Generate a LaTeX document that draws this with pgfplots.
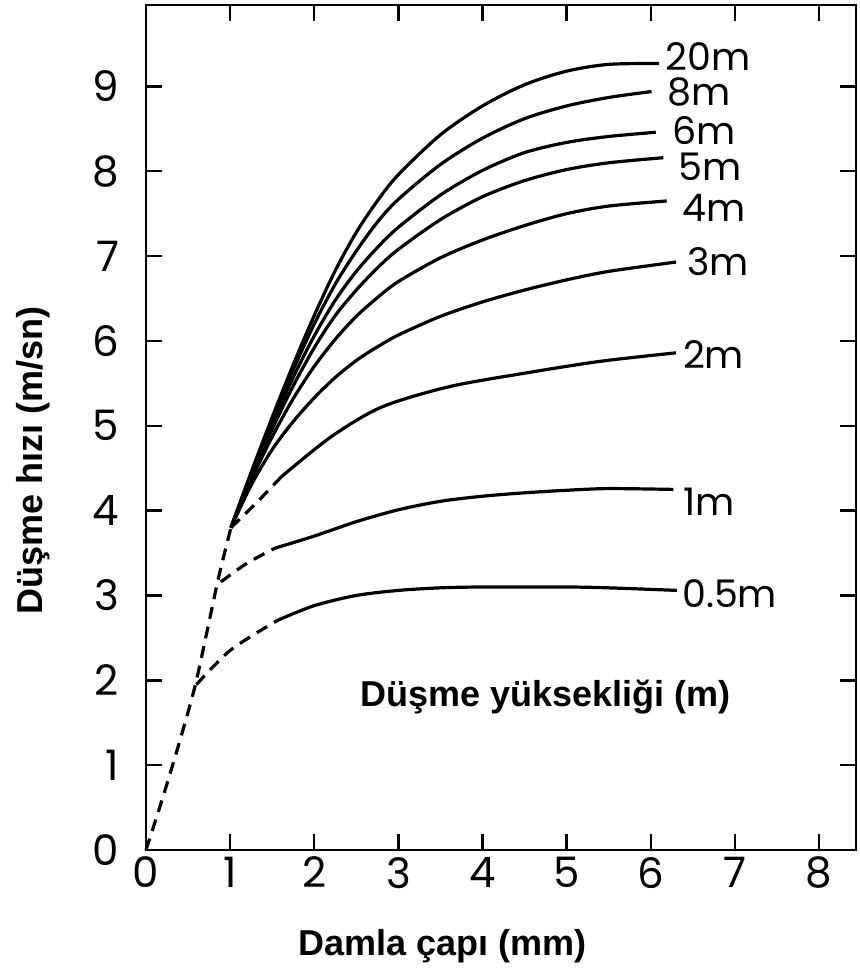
\documentclass[border=0pt]{standalone}
\usepackage{fontspec}
\setmainfont{Liberation Sans}
\newfontfamily\letterfont{Poppins}
\usepackage{pgfplots}
\pgfplotsset{compat=1.18}
\begin{document}
\begin{tikzpicture}
\path[use as bounding box] (-73pt,-61pt) rectangle (356.5pt,425pt);
\begin{axis}[
  scale only axis, width=355pt, height=422.5pt,
  xmin=0, xmax=8.44, ymin=0, ymax=9.96,
  xtick={0,...,8}, ytick={0,...,9},
  xtick pos=both, ytick pos=both,
  tick align=inside, major tick length=8pt,
  axis line style={line width=1.4pt},
  tick style={line width=1.2pt, black},
  /pgf/number format/assume math mode=true,
  ticklabel style={font=\letterfont\fontsize{21}{21}\selectfont},
  yticklabel style={xshift=-10pt},
  clip=false,
  cycle list={{black, solid}},
  curve/.style={black, line width=1.6pt, smooth},
  dcurve/.style={black, line width=1.6pt, smooth, dash pattern=on 6pt off 4pt},
]
% main dashed curve
\addplot[dcurve] coordinates {(0,0) (0.2,0.62) (0.4,1.28) (0.58,1.92) (0.72,2.55) (0.86,3.2) (1.01,3.8)};
% 20 m
\addplot[curve] coordinates {(1.01,3.80) (1.25,4.45) (1.5,5.10) (1.75,5.72) (2.0,6.30) (2.25,6.83) (2.5,7.28) (2.75,7.65) (3.0,7.96) (3.5,8.43) (4.0,8.77) (4.5,9.02) (5.0,9.18) (5.5,9.26) (6.1,9.27)};
% 8 m
\addplot[curve] coordinates {(1.01,3.80) (1.25,4.44) (1.5,5.07) (1.75,5.66) (2.0,6.20) (2.25,6.67) (2.5,7.06) (2.75,7.40) (3.0,7.67) (3.5,8.08) (4.0,8.39) (4.5,8.62) (5.0,8.77) (5.5,8.87) (6.01,8.94)};
% 6 m
\addplot[curve] coordinates {(1.01,3.80) (1.25,4.42) (1.5,5.02) (1.75,5.57) (2.0,6.06) (2.25,6.48) (2.5,6.82) (2.75,7.10) (3.0,7.34) (3.5,7.72) (4.0,8.01) (4.5,8.22) (5.0,8.34) (5.5,8.41) (6.06,8.46)};
% 5 m
\addplot[curve] coordinates {(1.01,3.80) (1.25,4.40) (1.5,4.96) (1.75,5.47) (2.0,5.92) (2.25,6.30) (2.5,6.60) (2.75,6.86) (3.0,7.08) (3.5,7.43) (4.0,7.70) (4.5,7.89) (5.0,8.02) (5.5,8.10) (6.15,8.16)};
% 4 m
\addplot[curve] coordinates {(1.01,3.80) (1.25,4.36) (1.5,4.87) (1.75,5.32) (2.0,5.70) (2.25,6.02) (2.5,6.29) (2.75,6.51) (3.0,6.70) (3.5,6.98) (4.0,7.19) (4.5,7.36) (5.0,7.50) (5.5,7.59) (6.19,7.65)};
% 3 m
\addplot[curve] coordinates {(1.01,3.80) (1.25,4.30) (1.5,4.72) (1.75,5.05) (2.0,5.33) (2.25,5.57) (2.5,5.77) (2.75,5.93) (3.0,6.07) (3.5,6.29) (4.0,6.46) (4.5,6.60) (5.0,6.72) (5.5,6.82) (6.3,6.93)};
% 2 m
\addplot[dcurve] coordinates {(1.01,3.8) (1.3,4.08) (1.61,4.4)};
\addplot[curve] coordinates {(1.61,4.4) (2.2,4.87) (2.8,5.22) (3.6,5.46) (4.5,5.62) (5.4,5.76) (6.3,5.86)};
% 1 m
\addplot[dcurve] coordinates {(0.89,3.16) (1.2,3.38) (1.54,3.56)};
\addplot[curve] coordinates {(1.54,3.56) (2.0,3.70) (2.5,3.87) (3.0,4.01) (3.5,4.11) (4.0,4.17) (4.5,4.21) (5.0,4.24) (5.5,4.26) (6.27,4.25)};
% 0.5 m
\addplot[dcurve] coordinates {(0.6,1.95) (1.01,2.36) (1.57,2.71)};
\addplot[curve] coordinates {(1.57,2.71) (2.0,2.88) (2.5,3.00) (3.0,3.06) (3.5,3.09) (4.0,3.10) (5.0,3.10) (5.5,3.09) (6.31,3.06)};
% curve labels
\begin{scope}[every node/.style={anchor=west, inner sep=0pt, font=\letterfont\fontsize{19}{19}\selectfont}]
\node at (axis cs:6.17,9.35) {20m};
\node at (axis cs:6.19,8.93) {8m};
\node at (axis cs:6.25,8.48) {6m};
\node at (axis cs:6.33,8.05) {5m};
\node at (axis cs:6.37,7.57) {4m};
\node at (axis cs:6.43,6.93) {3m};
\node at (axis cs:6.38,5.84) {2m};
\node at (axis cs:6.38,4.10) {1m};
\node at (axis cs:6.37,3.02) {0.5m};
\end{scope}
\node[font=\bfseries\fontsize{18}{18}\selectfont] at (axis cs:4.75,1.80) {Düşme yüksekliği (m)};
\node[font=\bfseries\fontsize{18}{18}\selectfont] at ([yshift=-48pt]rel axis cs:0.418,0) {Damla çapı (mm)};
\node[rotate=90, font=\bfseries\fontsize{18}{18}\selectfont] at ([xshift=-56.5pt]rel axis cs:0,0.4615) {Düşme hızı (m/sn)};
\end{axis}
\end{tikzpicture}
\end{document}
